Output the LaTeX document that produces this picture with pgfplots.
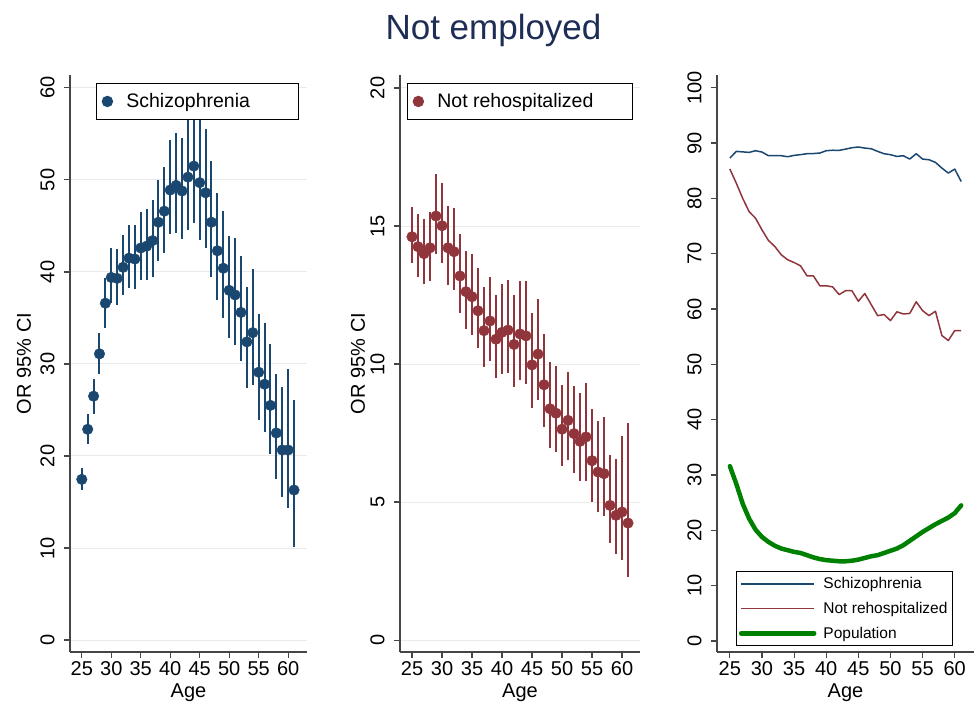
\documentclass[border=0pt]{standalone}
\usepackage{pgfplots}
\pgfplotsset{compat=1.18}
\usepackage{pgfplotstable}
\usepackage{fontspec}
\setmainfont{Liberation Sans}

\definecolor{snavy}{RGB}{26,71,111}
\definecolor{smaroon}{RGB}{144,53,59}
\definecolor{sgreen}{RGB}{0,128,0}
\definecolor{axcol}{RGB}{70,70,70}
\definecolor{gridcol}{RGB}{234,234,234}
\definecolor{titlecol}{RGB}{30,45,85}

\pgfplotstableread{
a m lo hi
25 17.46 16.3 18.66
26 22.9 21.3 24.6
27 26.5 24.6 28.4
28 31.1 28.9 33.4
29 36.6 33.9 39.3
30 39.4 36.6 42.6
31 39.3 36.4 42.5
32 40.5 37.5 44.0
33 41.5 38.2 45.1
34 41.4 38.1 45.1
35 42.6 39.1 46.5
36 42.8 39.1 46.8
37 43.4 39.5 47.8
38 45.4 41.2 50.0
39 46.6 42.1 51.4
40 48.9 44.1 54.3
41 49.4 44.2 55.1
42 48.8 43.6 54.5
43 50.3 44.6 56.8
44 51.5 45.3 58.3
45 49.7 43.5 56.5
46 48.6 42.6 55.5
47 45.4 39.5 52.0
48 42.3 36.9 48.6
49 40.4 35.0 46.6
50 38.0 32.8 43.9
51 37.5 32.1 43.7
52 35.6 30.3 41.7
53 32.4 27.4 38.4
54 33.4 27.7 40.3
55 29.1 23.9 35.4
56 27.8 22.6 34.4
57 25.5 20.2 32.2
58 22.5 17.5 28.9
59 20.65 15.5 27.5
60 20.65 14.4 29.5
61 16.3 10.1 26.1
}\schz

\pgfplotstableread{
a m lo hi
25 14.61 13.65 15.68
26 14.25 13.16 15.42
27 14.0 12.89 15.24
28 14.21 13.0 15.52
29 15.36 13.99 16.88
30 15.01 13.67 16.57
31 14.21 12.86 15.72
32 14.07 12.68 15.64
33 13.19 11.84 14.71
34 12.62 11.26 14.11
35 12.44 11.05 13.99
36 11.93 10.57 13.49
37 11.21 9.9 12.8
38 11.56 10.1 13.16
39 10.9 9.5 12.5
40 11.15 9.65 12.9
41 11.23 9.68 13.04
42 10.71 9.17 12.5
43 11.09 9.41 13.0
44 11.02 9.29 13.0
45 9.97 8.41 11.84
46 10.36 8.68 12.36
47 9.25 7.72 11.08
48 8.38 6.96 10.06
49 8.22 6.8 9.92
50 7.64 6.32 9.25
51 7.96 6.51 9.71
52 7.48 6.05 9.21
53 7.2 5.75 8.95
54 7.36 5.75 9.31
55 6.5 5.02 8.37
56 6.09 4.64 7.95
57 6.03 4.48 8.08
58 4.88 3.51 6.71
59 4.52 3.12 6.56
60 4.64 2.91 7.4
61 4.24 2.27 7.86
}\notrehosp

\pgfplotstableread{
a s n p
25 87.28 85.3 31.6
26 88.49 82.75 28.4
27 88.40 80.0 24.8
28 88.31 77.6 22.1
29 88.61 76.4 20.1
30 88.37 74.3 18.8
31 87.71 72.4 17.9
32 87.71 71.3 17.2
33 87.71 69.8 16.7
34 87.52 68.9 16.4
35 87.77 68.4 16.1
36 87.90 67.8 15.9
37 88.07 66.0 15.5
38 88.10 66.0 15.1
39 88.19 64.2 14.8
40 88.61 64.2 14.6
41 88.70 64.0 14.5
42 88.67 62.6 14.4
43 88.90 63.3 14.4
44 89.15 63.3 14.5
45 89.28 61.4 14.7
46 89.09 62.8 15.0
47 88.97 60.8 15.3
48 88.49 58.8 15.5
49 88.07 59.0 15.9
50 87.89 57.9 16.3
51 87.58 59.5 16.7
52 87.71 59.1 17.3
53 87.10 59.2 18.1
54 88.07 61.3 18.9
55 87.10 59.7 19.7
56 86.98 58.8 20.4
57 86.50 59.6 21.1
58 85.47 55.2 21.7
59 84.57 54.3 22.3
60 85.29 56.1 23.1
61 83.06 56.1 24.5
}\lines

\pgfplotsset{
  stata/.style={
    scale only axis,
    axis x line*=bottom, axis y line*=left,
    axis line style={-, line width=1.2pt, color=axcol},
    every tick/.style={line width=1.2pt, color=axcol},
    tick align=outside, major tick length=6pt,
    xtick={25,30,...,60},
    minor tick num=0,
    tick label style={font=\fontsize{20}{22}\selectfont},
    yticklabel style={rotate=90, anchor=south},
    yticklabel shift=6pt,
    /pgf/number format/assume math mode=true,
    label style={font=\fontsize{20}{22}\selectfont},
    xlabel={Age},
    xlabel style={at={(axis description cs:0.5,-0.071)}, anchor=center},
    ylabel style={anchor=center},
    major grid style={line width=1pt, color=gridcol},
    legend cell align=left,
  },
  bigleg/.style={
    legend style={draw=black, line width=0.8pt, fill=white,
      font=\fontsize{19.5}{21}\selectfont,
      inner xsep=4pt, inner ysep=1pt,
      /tikz/every odd column/.append style={column sep=10pt}},
    legend image code/.code={
      \path[draw=none, fill=none] (-7pt,-17pt) rectangle (7pt,17pt);
      \draw[##1, mark repeat=1, mark phase=1] plot coordinates {(0pt,0pt)};
    },
  },
}

\begin{document}
\begin{tikzpicture}[x=1pt,y=1pt]
\useasboundingbox (0,0) rectangle (976,703);

\node[anchor=base, font=\fontsize{35}{40}\selectfont, text=titlecol] at (493.5,663) {Not employed};

% Panel 1
\begin{axis}[stata, bigleg,
  at={(70pt,51pt)}, anchor=south west,
  width=237pt, height=577pt,
  xmin=23, xmax=63.2, ymin=-1.3, ymax=61.4,
  ytick={0,10,...,60}, ymajorgrids,
  ylabel={OR 95\% CI},
  ylabel style={at={(axis description cs:-0.194,0.5)}},
  legend style={at={(0.1097,0.986)}, anchor=north west},
]
\addplot[only marks, mark=*, mark size=5.3pt, color=snavy,
  error bars/.cd, y dir=both, y explicit, error mark=none,
  error bar style={line width=2pt, color=snavy}]
  table[x=a, y=m, y error plus expr=\thisrow{hi}-\thisrow{m}, y error minus expr=\thisrow{m}-\thisrow{lo}] {\schz};
\addlegendentry{\makebox[166pt][l]{Schizophrenia}}
\end{axis}

% Panel 2
\begin{axis}[stata, bigleg,
  at={(400pt,51pt)}, anchor=south west,
  width=240pt, height=577pt,
  xmin=23, xmax=63, ymin=-0.43, ymax=20.47,
  ytick={0,5,...,20}, ymajorgrids,
  ylabel={OR 95\% CI},
  ylabel style={at={(axis description cs:-0.175,0.5)}},
  legend style={at={(0.029,0.986)}, anchor=north west},
]
\addplot[only marks, mark=*, mark size=5.3pt, color=smaroon,
  error bars/.cd, y dir=both, y explicit, error mark=none,
  error bar style={line width=2pt, color=smaroon}]
  table[x=a, y=m, y error plus expr=\thisrow{hi}-\thisrow{m}, y error minus expr=\thisrow{m}-\thisrow{lo}] {\notrehosp};
\addlegendentry{\makebox[189pt][l]{Not rehospitalized}}
\end{axis}

% Panel 3
\begin{axis}[stata,
  at={(717pt,51pt)}, anchor=south west,
  width=257pt, height=577pt,
  xmin=23, xmax=63, ymin=-2.0, ymax=102.3,
  ytick={0,10,...,100},
  legend style={at={(0.074,0.0104)}, anchor=south west,
    draw=black, line width=0.8pt, fill=white,
    font=\fontsize{15.5}{17}\selectfont,
    inner xsep=2.5pt, inner ysep=0pt,
    /tikz/every odd column/.append style={column sep=5pt}},
  legend image code/.code={\path[draw=none, fill=none] (0pt,-12.3pt) rectangle (73pt,12.3pt); \draw[#1] (0pt,0pt) -- (73pt,0pt);},
]
\addplot[color=snavy, line width=1.5pt, line join=round] table[x=a, y=s] {\lines};
\addlegendentry{Schizophrenia}
\addplot[color=smaroon, line width=1.5pt, line join=round] table[x=a, y=n] {\lines};
\addlegendentry{Not rehospitalized}
\addplot[color=sgreen, line width=4.5pt, line join=round, line cap=round] table[x=a, y=p] {\lines};
\addlegendentry{Population}
\end{axis}
\end{tikzpicture}
\end{document}
